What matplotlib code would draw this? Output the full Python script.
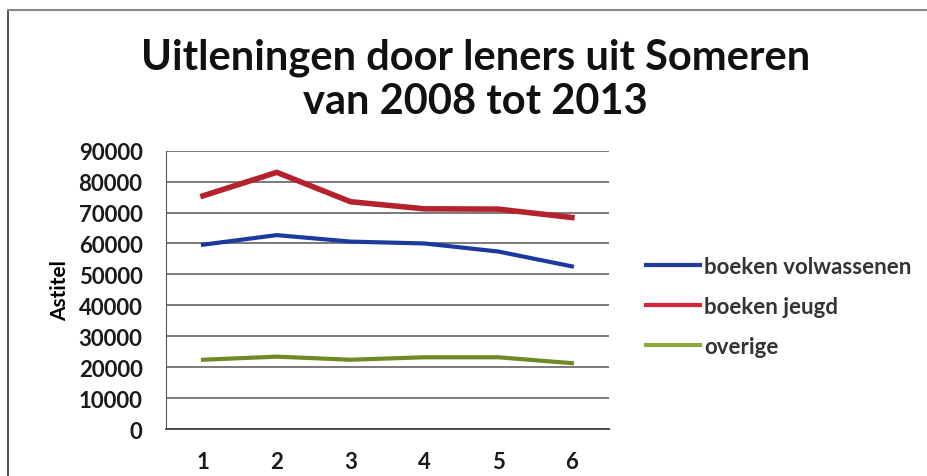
import matplotlib.pyplot as plt
import matplotlib
from matplotlib.lines import Line2D

matplotlib.rcParams['font.family'] = ['Lato', 'DejaVu Sans']

years = [1, 2, 3, 4, 5, 6]
volwassenen = [59600, 62700, 60600, 60000, 57400, 52600]
jeugd = [75400, 83000, 73500, 71200, 71100, 68400]
overige = [22400, 23400, 22400, 23200, 23200, 21300]
yticks = [0, 10000, 20000, 30000, 40000, 50000, 60000, 70000, 80000, 90000]

fig = plt.figure(figsize=(9.28, 4.77), dpi=100)
ax = fig.add_axes([0.179, 0.0985, 0.477, 0.5835])

ax.plot(years, volwassenen, color='#1c3a9e', linewidth=3, label='boeken volwassenen')
ax.plot(years, jeugd, color='#b5222b', linewidth=4, label='boeken jeugd')
ax.plot(years, overige, color='#6f8a25', linewidth=3, label='overige')

ax.set_xlim(0.5, 6.5)
ax.set_ylim(0, 90000)
ax.set_yticks(yticks)
ax.set_xticks(years)
ax.yaxis.grid(True, color='#707070', linewidth=1.3)
ax.set_axisbelow(True)
for s in ['top', 'right']:
    ax.spines[s].set_visible(False)
ax.spines['left'].set_color('#555555')
ax.spines['left'].set_linewidth(0.8)
ax.spines['bottom'].set_color('#444444')
ax.spines['bottom'].set_linewidth(1.3)
ax.tick_params(length=0, labelsize=16, labelcolor='#1a1a1a')
ax.tick_params(axis='y', pad=17)
ax.tick_params(axis='x', pad=16)
for t in ax.get_xticklabels() + ax.get_yticklabels():
    t.set_fontweight('bold')

ax.set_ylabel('Astitel', fontsize=15, fontweight='bold', labelpad=6)

fig.text(0.512, 0.832, 'Uitleningen door leners uit Someren\nvan 2008 tot 2013',
         ha='center', va='center', fontsize=30, fontweight='bold',
         color='#111111', linespacing=1.2)

handles = [Line2D([], [], color='#1f3c99', linewidth=3),
           Line2D([], [], color='#d0283a', linewidth=3),
           Line2D([], [], color='#8faa3c', linewidth=3)]
fig.legend(handles, ['boeken volwassenen', 'boeken jeugd', 'overige'],
           loc='center left', bbox_to_anchor=(0.675, 0.355), frameon=False,
           handlelength=2.4, handletextpad=0.2, labelspacing=0.85,
           labelcolor='#333333', prop={'weight': 'bold', 'size': 16})

# chart border from the scan
fig.add_artist(Line2D([0.009, 0.009], [0.0, 0.977], color='#333333', linewidth=1.2,
                      transform=fig.transFigure))
fig.add_artist(Line2D([0.009, 1.0], [0.977, 0.977], color='#888888', linewidth=1.5,
                      transform=fig.transFigure))

plt.savefig('out.png', dpi=100)
